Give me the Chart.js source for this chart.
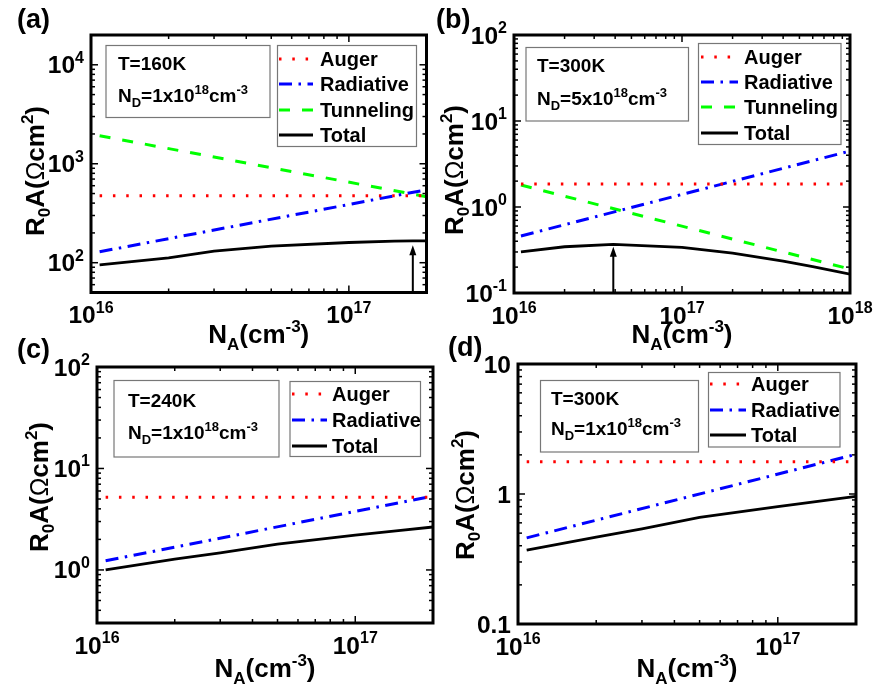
<!DOCTYPE html>
<html><head><meta charset="utf-8">
<script src="https://cdn.jsdelivr.net/npm/chart.js@4.4.0/dist/chart.umd.min.js"></script>
<style>
html,body{margin:0;padding:0;background:#fff;}
#wrap{position:relative;width:882px;height:693px;background:#fff;overflow:hidden;}
canvas{position:absolute;left:0;top:0;}
</style></head><body><div id="wrap">
<canvas id="ca" width="882" height="693"></canvas>
<canvas id="cb" width="882" height="693"></canvas>
<canvas id="cc" width="882" height="693"></canvas>
<canvas id="cd" width="882" height="693"></canvas>
</div>
<script>
// ================= DATA =================
// (a) T=160K, ND=1x10^18
const aX = [1.08e16, 2e17];
const aAuger = [475, 475];
const aRadiative = [129, 546];
const aTunneling = [1920, 465];
const aTotalX = [1.08e16, 2e16, 3e16, 5e16, 1e17, 1.5e17, 1.77e17, 2e17];
const aTotal = [95, 112, 131, 147, 160, 165, 166, 166];
const aArrow = [1.77e17, 150];
const aXTicks = [1e16, 1e17], aXExp = ['16', '17'];
const aYTicks = [1e2, 1e3, 1e4], aYExp = ['2', '3', '4'];

// (b) T=300K, ND=5x10^18
const bX = [1.1e16, 1e18];
const bAuger = [1.85, 1.85];
const bRadiative = [0.46, 4.48];
const bTunneling = [1.8, 0.19];
const bTotalX = [1.1e16, 2e16, 3.9e16, 1e17, 2e17, 4e17, 6e17, 1e18];
const bTotal = [0.30, 0.345, 0.368, 0.34, 0.29, 0.235, 0.203, 0.166];
const bArrow = [3.9e16, 0.345];
const bXTicks = [1e16, 1e17, 1e18], bXExp = ['16', '17', '18'];
const bYTicks = [0.1, 1, 10, 100], bYExp = ['-1', '0', '1', '2'];

// (c) T=240K, ND=1x10^18
const cX = [1.08e16, 2e17];
const cAuger = [5.2, 5.2];
const cRadiative = [1.23, 5.35];
const cTotalX = [1.08e16, 2e16, 3e16, 5e16, 1e17, 1.5e17, 2e17];
const cTotal = [1.0, 1.28, 1.47, 1.8, 2.2, 2.45, 2.65];
const cXTicks = [1e16, 1e17], cXExp = ['16', '17'];
const cYTicks = [1, 10, 100], cYExp = ['0', '1', '2'];

// (d) T=300K, ND=1x10^18
const dX = [1.08e16, 2e17];
const dAuger = [1.77, 1.77];
const dRadiative = [0.46, 2.02];
const dTotalX = [1.08e16, 2e16, 3e16, 5e16, 1e17, 1.5e17, 2e17];
const dTotal = [0.37, 0.465, 0.54, 0.66, 0.80, 0.89, 0.96];
const dXTicks = [1e16, 1e17], dXExp = ['16', '17'];
const dYTicks = [0.1, 1, 10], dYLabels = ['0.1', '1', '10'];

// ================= STYLE / RENDER =================
const FONT = '"Liberation Sans", Arial, Helvetica, sans-serif';
const STY = {
  Auger:     {c: '#ff0000', w: 3, d: [2.5, 10.8]},
  Radiative: {c: '#0000ff', w: 3, d: [13, 6.5, 2.5, 6.5]},
  Tunneling: {c: '#00ff00', w: 3, d: [11, 12]},
  Total:     {c: '#000000', w: 2.8, d: []}
};
function ds(label, xs, ys) {
  const s = STY[label];
  return {label, data: xs.map((x, i) => ({x, y: ys[i]})), borderColor: s.c, backgroundColor: s.c,
    borderWidth: s.w, borderDash: s.d, pointRadius: 0, fill: false, tension: 0};
}
function fnt(size, weight) { return `${weight || 'bold'} ${size}px ${FONT}`; }
function drawRich(ctx, segs, x, y, align) {
  let w = 0;
  segs.forEach(s => { ctx.font = fnt(s[1], s[3]); w += ctx.measureText(s[0]).width; });
  let cx = align === 'center' ? x - w / 2 : align === 'right' ? x - w : x;
  ctx.textAlign = 'left'; ctx.textBaseline = 'alphabetic';
  segs.forEach(s => { ctx.font = fnt(s[1], s[3]); ctx.fillText(s[0], cx, y + s[2]); cx += ctx.measureText(s[0]).width; });
}
const pow = e => [['10', 24.5, 0], [e, 16, -10.5]];
const plain = t => [[t, 24.5, 0]];
const xTitle = [['N', 26, 0], ['A', 17, 7], ['(cm', 26, 0], ['-3', 17, -11], [')', 26, 0]];
const yTitle = [['R', 26, 0], ['0', 17, 6], ['A(', 26, 0], ['\u03A9', 25, 0, 'normal'], ['cm', 26, 0], ['2', 17, -11], [')', 26, 0]];

function logTicks(min, max) {
  const out = [];
  for (let d = Math.floor(Math.log10(min)) - 1; d <= Math.ceil(Math.log10(max)); d++) {
    for (let k = 1; k <= 9; k++) {
      const v = k * Math.pow(10, d);
      if (v >= min * 0.999 && v <= max * 1.001) out.push([v, k === 1]);
    }
  }
  return out;
}

const panelPlugin = {
  id: 'panel',
  afterDatasetsDraw(chart) {
    const P = chart.options.plugins.panel, ctx = chart.ctx;
    const xs = chart.scales.x, ys = chart.scales.y, a = chart.chartArea;
    ctx.save();
    ctx.fillStyle = '#000'; ctx.strokeStyle = '#000'; ctx.setLineDash([]);
    const line = (x1, y1, x2, y2) => { ctx.beginPath(); ctx.moveTo(x1, y1); ctx.lineTo(x2, y2); ctx.stroke(); };
    // arrow
    if (P.arrow) {
      const px = xs.getPixelForValue(P.arrow[0]), tip = ys.getPixelForValue(P.arrow[1]);
      ctx.lineWidth = 2; line(px, a.bottom, px, tip + 6);
      ctx.beginPath(); ctx.moveTo(px, tip); ctx.lineTo(px - 3.5, tip + 10); ctx.lineTo(px + 3.5, tip + 10); ctx.closePath(); ctx.fill();
    }
    // ticks (inward, mirrored)
    ctx.lineWidth = 1.5;
    logTicks(xs.min, xs.max).forEach(([v, M]) => { const p = xs.getPixelForValue(v), L = M ? 7 : 4; line(p, a.bottom, p, a.bottom - L); line(p, a.top, p, a.top + L); });
    logTicks(ys.min, ys.max).forEach(([v, M]) => { const p = ys.getPixelForValue(v), L = M ? 7 : 4; line(a.left, p, a.left + L, p); line(a.right, p, a.right - L, p); });
    // frame
    ctx.lineWidth = 3; ctx.strokeRect(a.left, a.top, a.right - a.left, a.bottom - a.top);
    // tick labels
    P.xTicks.forEach((v, i) => drawRich(ctx, P.xTickSegs[i], xs.getPixelForValue(v), a.bottom + 30.5, 'center'));
    P.yTicks.forEach((v, i) => drawRich(ctx, P.yTickSegs[i], a.left - 7, ys.getPixelForValue(v) + 8.5, 'right'));
    // axis titles
    drawRich(ctx, xTitle, (a.left + a.right) / 2, a.bottom + P.xTitleOff, 'center');
    ctx.save(); ctx.translate(P.yTitle[0], P.yTitle[1]); ctx.rotate(-Math.PI / 2);
    drawRich(ctx, yTitle, 0, 0, 'center'); ctx.restore();
    // panel label
    drawRich(ctx, [[P.label, 27, 0]], P.labelPos[0], P.labelPos[1], 'left');
    // inset text box
    const I = P.inset;
    ctx.strokeStyle = '#777'; ctx.lineWidth = 1.2;
    ctx.strokeRect(I.box[0], I.box[1], I.box[2] - I.box[0], I.box[3] - I.box[1]);
    drawRich(ctx, [[I.T, 19, 0]], I.x, I.y1 + 7, 'left');
    drawRich(ctx, [['N', 19, 0], ['D', 13, 5], ['=' + I.nd + 'x10', 19, 0], [I.ndExp, 13, -8], ['cm', 19, 0], ['-3', 13, -8]], I.x, I.y2 + 7, 'left');
    // legend
    const G = P.legend;
    ctx.strokeRect(G.box[0], G.box[1], G.box[2] - G.box[0], G.box[3] - G.box[1]);
    chart.data.datasets.forEach((d, i) => {
      const y = G.ys[i];
      ctx.strokeStyle = d.borderColor; ctx.lineWidth = d.borderWidth; ctx.setLineDash(d.borderDash);
      line(G.x1, y, G.x2, y);
      ctx.setLineDash([]); ctx.fillStyle = '#000';
      drawRich(ctx, [[d.label, 20, 0]], G.tx, y + 7, 'left');
    });
    ctx.restore();
  }
};
Chart.register(panelPlugin);

function makePanel(id, P) {
  const area = P.area;
  return new Chart(document.getElementById(id), {
    type: 'line',
    data: {datasets: P.datasets},
    options: {
      responsive: false, animation: false, devicePixelRatio: 1,
      layout: {padding: {left: area[0], top: area[1], right: 882 - area[2], bottom: 693 - area[3]}},
      scales: {
        x: {type: 'logarithmic', min: P.xRange[0], max: P.xRange[1], display: false},
        y: {type: 'logarithmic', min: P.yRange[0], max: P.yRange[1], display: false}
      },
      plugins: {legend: {display: false}, tooltip: {enabled: false}, panel: P}
    }
  });
}

makePanel('ca', {
  area: [91, 35, 426.5, 292.5], xRange: [1e16, 2e17], yRange: [50, 2e4],
  datasets: [ds('Auger', aX, aAuger), ds('Radiative', aX, aRadiative), ds('Tunneling', aX, aTunneling), ds('Total', aTotalX, aTotal)],
  arrow: aArrow,
  xTicks: aXTicks, xTickSegs: aXExp.map(pow), yTicks: aYTicks, yTickSegs: aYExp.map(pow),
  xTitleOff: 50.5, yTitle: [44, 171], label: '(a)', labelPos: [17, 28],
  inset: {box: [106, 45.5, 270, 117.5], T: 'T=160K', nd: '1', ndExp: '18', x: 118, y1: 63, y2: 95},
  legend: {box: [277.5, 45.5, 416.5, 146.5], x1: 279, x2: 313, tx: 320, ys: [59, 84, 110, 135]}
});
makePanel('cb', {
  area: [514, 35, 850, 293], xRange: [1e16, 1e18], yRange: [0.1, 100],
  datasets: [ds('Auger', bX, bAuger), ds('Radiative', bX, bRadiative), ds('Tunneling', bX, bTunneling), ds('Total', bTotalX, bTotal)],
  arrow: bArrow,
  xTicks: bXTicks, xTickSegs: bXExp.map(pow), yTicks: bYTicks, yTickSegs: bYExp.map(pow),
  xTitleOff: 50, yTitle: [463, 170], label: '(b)', labelPos: [436, 28],
  inset: {box: [526, 47.5, 688.5, 121], T: 'T=300K', nd: '5', ndExp: '18', x: 537, y1: 65, y2: 98},
  legend: {box: [698.5, 43.5, 841, 144.5], x1: 701, x2: 738, tx: 744, ys: [57, 82, 107, 133]}
});
makePanel('cc', {
  area: [97, 367, 433, 623], xRange: [1e16, 2e17], yRange: [0.3, 100],
  datasets: [ds('Auger', cX, cAuger), ds('Radiative', cX, cRadiative), ds('Total', cTotalX, cTotal)],
  arrow: null,
  xTicks: cXTicks, xTickSegs: cXExp.map(pow), yTicks: cYTicks, yTickSegs: cYExp.map(pow),
  xTitleOff: 54, yTitle: [48, 487], label: '(c)', labelPos: [17, 358],
  inset: {box: [114, 380.5, 279, 457], T: 'T=240K', nd: '1', ndExp: '18', x: 128, y1: 400, y2: 432},
  legend: {box: [290, 381.5, 420.5, 456.5], x1: 292, x2: 327, tx: 332, ys: [394, 420, 446]}
});
makePanel('cd', {
  area: [518, 364, 856, 624], xRange: [1e16, 2e17], yRange: [0.1, 10],
  datasets: [ds('Auger', dX, dAuger), ds('Radiative', dX, dRadiative), ds('Total', dTotalX, dTotal)],
  arrow: null,
  xTicks: dXTicks, xTickSegs: dXExp.map(pow), yTicks: dYTicks, yTickSegs: dYLabels.map(plain),
  xTitleOff: 53, yTitle: [474, 495], label: '(d)', labelPos: [448, 356],
  inset: {box: [540.5, 380.5, 698.5, 452], T: 'T=300K', nd: '1', ndExp: '18', x: 551, y1: 398, y2: 428},
  legend: {box: [708.5, 372.5, 840, 447], x1: 710, x2: 746, tx: 751, ys: [384, 410, 435]}
});
</script>
</body></html>
